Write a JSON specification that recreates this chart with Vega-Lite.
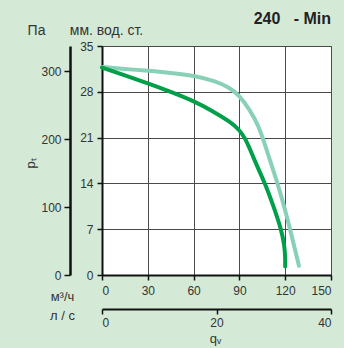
{
  "$schema": "https://vega.github.io/schema/vega-lite/v6.json",
  "autosize": "none",
  "width": 229,
  "height": 229,
  "padding": {"left": 102, "top": 46, "right": 13, "bottom": 73},
  "background": "#d5ead6",
  "title": {"text": "240\u00a0\u00a0\u00a0-\u00a0Min", "anchor": "end", "frame": "group", "fontSize": 16, "fontWeight": "bold", "font": "Liberation Sans", "color": "#222", "offset": -4},
  "config": {
    "view": {"fill": "white", "stroke": "#4a4a4a", "strokeWidth": 1},
    "axis": {"labelFont": "Liberation Sans", "labelFontSize": 12, "labelColor": "#333", "titleFont": "Liberation Sans", "titleFontSize": 13, "titleFontWeight": "normal", "titleColor": "#333", "domainColor": "#111", "domainWidth": 2, "tickColor": "#111", "tickWidth": 1.5, "tickSize": 5, "gridColor": "#4a4a4a", "gridWidth": 1, "gridOpacity": 1}
  },
  "datasets": {
    "curves": [
      {"series": "light", "q": 0, "mm": 31.8},
      {"series": "light", "q": 15, "mm": 31.5},
      {"series": "light", "q": 30, "mm": 31.2},
      {"series": "light", "q": 45, "mm": 30.9},
      {"series": "light", "q": 60, "mm": 30.5},
      {"series": "light", "q": 75, "mm": 29.6},
      {"series": "light", "q": 83, "mm": 28.7},
      {"series": "light", "q": 89.5, "mm": 27.6},
      {"series": "light", "q": 97, "mm": 25.2},
      {"series": "light", "q": 102.5, "mm": 22.8},
      {"series": "light", "q": 106, "mm": 20.5},
      {"series": "light", "q": 110, "mm": 17.5},
      {"series": "light", "q": 115.6, "mm": 13.6},
      {"series": "light", "q": 120, "mm": 9.9},
      {"series": "light", "q": 123.3, "mm": 6.9},
      {"series": "light", "q": 129, "mm": 1.4},
      {"series": "dark", "q": 0, "mm": 31.7},
      {"series": "dark", "q": 15, "mm": 30.5},
      {"series": "dark", "q": 30, "mm": 29.3},
      {"series": "dark", "q": 45, "mm": 28.0},
      {"series": "dark", "q": 60, "mm": 26.6},
      {"series": "dark", "q": 73, "mm": 25.0},
      {"series": "dark", "q": 84, "mm": 23.4},
      {"series": "dark", "q": 90, "mm": 22.2},
      {"series": "dark", "q": 94, "mm": 20.8},
      {"series": "dark", "q": 97, "mm": 19.2},
      {"series": "dark", "q": 100.5, "mm": 17.2},
      {"series": "dark", "q": 107, "mm": 13.9},
      {"series": "dark", "q": 112.5, "mm": 10.4},
      {"series": "dark", "q": 117.5, "mm": 6.9},
      {"series": "dark", "q": 119.5, "mm": 4.5},
      {"series": "dark", "q": 120, "mm": 2.8},
      {"series": "dark", "q": 120, "mm": 1.3}
    ],
    "pa": [{"pa": 0}, {"pa": 337}],
    "ls": [{"ls": 0}, {"ls": 40}]
  },
  "layer": [
    {
      "data": {"name": "curves"},
      "mark": {"type": "line", "strokeWidth": 4, "interpolate": "basis", "strokeCap": "round"},
      "encoding": {
        "x": {"field": "q", "type": "quantitative", "scale": {"domain": [0, 150], "nice": false},
          "axis": {"values": [0, 30, 60, 90, 120, 150], "labelPadding": 5, "title": "м³/ч", "titleX": -40, "titleY": 21, "titleAlign": "center", "titleBaseline": "middle"}},
        "y": {"field": "mm", "type": "quantitative", "scale": {"domain": [0, 35], "nice": false},
          "axis": {"values": [0, 7, 14, 21, 28, 35], "labelPadding": 4, "title": "мм. вод. ст.", "titleFontSize": 14, "titleAngle": 0, "titleX": 4, "titleY": -16, "titleAlign": "center", "titleBaseline": "middle"}},
        "color": {"field": "series", "type": "nominal", "scale": {"domain": ["light", "dark"], "range": ["#88d1b6", "#00a04a"]}, "legend": null}
      }
    },
    {
      "data": {"name": "pa"},
      "mark": {"type": "point", "opacity": 0},
      "encoding": {
        "y": {"field": "pa", "type": "quantitative", "scale": {"domain": [0, 337], "nice": false},
          "axis": {"orient": "left", "offset": 32, "values": [0, 100, 200, 300], "grid": false, "tickSize": 6, "labelPadding": 3, "domainWidth": 2.5, "title": "pₜ", "titleAngle": 270, "titleX": -40, "titleY": 117, "titleAlign": "center", "titleBaseline": "middle"}}
      }
    },
    {
      "data": {"name": "pa"},
      "mark": {"type": "point", "opacity": 0},
      "encoding": {
        "y": {"field": "pa", "type": "quantitative", "scale": {"domain": [0, 337], "nice": false},
          "axis": {"orient": "left", "offset": 0, "grid": false, "domain": false, "ticks": false, "labels": false, "title": "Па", "titleFontSize": 14, "titleAngle": 0, "titleX": -66, "titleY": -16, "titleAlign": "center", "titleBaseline": "middle"}}
      }
    },
    {
      "data": {"name": "ls"},
      "mark": {"type": "point", "opacity": 0},
      "encoding": {
        "x": {"field": "ls", "type": "quantitative", "scale": {"domain": [0, 40], "nice": false},
          "axis": {"orient": "bottom", "offset": 34, "values": [0, 20, 40], "grid": false, "labelPadding": 3, "title": "qᵥ", "titleX": 113, "titleY": 29, "titleAlign": "center", "titleBaseline": "middle"}}
      }
    },
    {
      "data": {"name": "ls"},
      "mark": {"type": "point", "opacity": 0},
      "encoding": {
        "x": {"field": "ls", "type": "quantitative", "scale": {"domain": [0, 40], "nice": false},
          "axis": {"orient": "bottom", "offset": 34, "grid": false, "domain": false, "ticks": false, "labels": false, "title": "л / с", "titleX": -40, "titleY": 6, "titleAlign": "center", "titleBaseline": "middle"}}
      }
    }
  ],
  "resolve": {"scale": {"x": "independent", "y": "independent"}}
}
